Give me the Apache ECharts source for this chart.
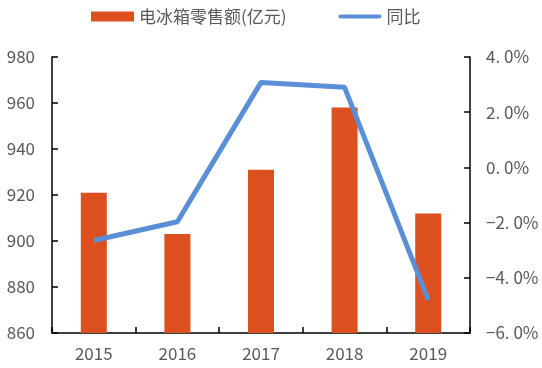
<!DOCTYPE html>
<html><head><meta charset="utf-8">
<script src="https://cdn.jsdelivr.net/npm/echarts@6/dist/echarts.min.js"></script>
<style>html,body{margin:0;padding:0;background:#fff}#c{width:542px;height:368px}</style>
</head><body><div id="c"></div>
<script>
const categories = ['2015','2016','2017','2018','2019'];
const salesValues = [921, 903, 931, 958, 912];
const yoyValues = [-2.65, -1.97, 3.08, 2.90, -4.80];
const barName = '电冰箱零售额(亿元)';
const lineName = '同比';

const font = '"Noto Sans CJK SC", "Noto Sans", sans-serif';
const chart = echarts.init(document.getElementById('c'));
chart.setOption({
  animation: false,
  textStyle: { fontFamily: font },
  legend: {
    left: 86, top: 3,
    itemWidth: 43, itemHeight: 10, itemGap: 52,
    textStyle: { fontSize: 17, color: '#595959', fontFamily: font },
    data: [
      { name: barName, icon: 'rect' },
      { name: lineName, icon: 'path://M0,0 M0,10 M2,3 L41,3 A2,2 0 0 1 41,7 L2,7 A2,2 0 0 1 2,3 Z' }
    ]
  },
  grid: { left: 52, right: 72, top: 57, bottom: 35 },
  xAxis: {
    type: 'category', data: categories,
    axisLine: { onZero: false, lineStyle: { color: '#000', width: 1.5 } },
    axisTick: { show: true, inside: true, length: 6, lineStyle: { color: '#000', width: 1.5 } },
    axisLabel: { fontSize: 17, color: '#595959', margin: 12, fontFamily: font }
  },
  yAxis: [{
    type: 'value', min: 860, max: 980, interval: 20,
    axisLine: { show: true, lineStyle: { color: '#000', width: 1.5 } },
    axisTick: { show: true, inside: true, length: 6, lineStyle: { color: '#000', width: 1.5 } },
    splitLine: { show: false },
    axisLabel: { fontSize: 17, color: '#595959', margin: 17, fontFamily: font }
  }, {
    type: 'value', min: -6, max: 4, interval: 2,
    axisLine: { show: true, lineStyle: { color: '#000', width: 1.5 } },
    axisTick: { show: true, inside: true, length: 6, lineStyle: { color: '#000', width: 1.5 } },
    splitLine: { show: false },
    axisLabel: { fontSize: 17, color: '#595959', margin: 16, fontFamily: font,
      formatter: v => v.toFixed(1).replace('.', '. ').replace('-', '−') + '%' }
  }],
  series: [{
    name: barName, type: 'bar', data: salesValues, yAxisIndex: 0,
    barWidth: 26,
    itemStyle: { color: '#DC4F1F' }
  }, {
    name: lineName, type: 'line', data: yoyValues, yAxisIndex: 1,
    symbol: 'none',
    lineStyle: { color: '#5A8FD8', width: 5 },
    itemStyle: { color: '#5A8FD8' }
  }]
});
</script></body></html>
